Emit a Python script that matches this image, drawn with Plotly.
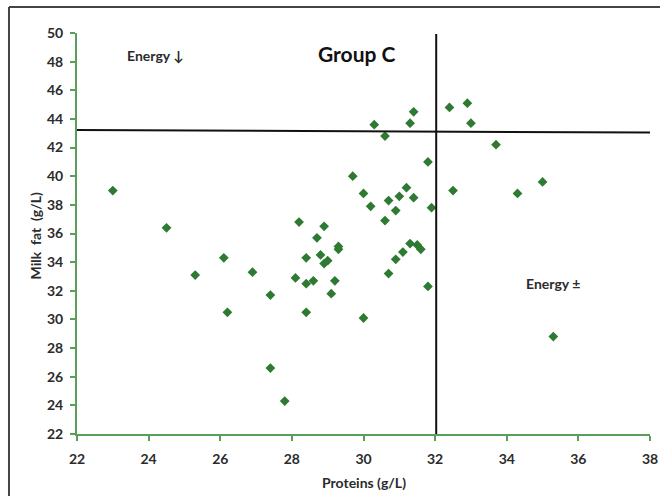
import plotly.graph_objects as go

# Data
proteins = [23.0, 24.5, 25.3, 26.1, 26.2, 26.9, 27.4, 27.4, 27.8, 28.2,
            28.1, 28.4, 28.4, 28.4, 28.6, 28.7, 28.9, 28.8, 28.9, 29.0,
            29.1, 29.2, 29.3, 29.3, 29.7, 30.0, 30.2, 30.6, 30.7, 30.9,
            31.0, 31.2, 31.4, 31.8, 31.9, 31.8, 31.3, 31.5, 31.6, 31.1,
            30.9, 30.7, 30.0, 30.3, 30.6, 31.3, 31.4, 32.4, 32.9, 33.0,
            33.7, 32.5, 34.3, 35.0, 35.3]
milk_fat = [39.0, 36.4, 33.1, 34.3, 30.5, 33.3, 31.7, 26.6, 24.3, 36.8,
            32.9, 34.3, 32.5, 30.5, 32.7, 35.7, 36.5, 34.5, 33.9, 34.1,
            31.8, 32.7, 35.1, 34.9, 40.0, 38.8, 37.9, 36.9, 38.3, 37.6,
            38.6, 39.2, 38.5, 41.0, 37.8, 32.3, 35.3, 35.2, 34.9, 34.7,
            34.2, 33.2, 30.1, 43.6, 42.8, 43.7, 44.5, 44.8, 45.1, 43.7,
            42.2, 39.0, 38.8, 39.6, 28.8]

x_ticks = [22, 24, 26, 28, 30, 32, 34, 36, 38]
y_ticks = [22, 24, 26, 28, 30, 32, 34, 36, 38, 40, 42, 44, 46, 48, 50]

# Threshold reference lines
fat_threshold_left = 43.23
fat_threshold_right = 43.05
protein_threshold = 32.03

GREEN_AXIS = "#5a9e5c"
MARKER = "#2e7a32"
FONT = "Lato, 'Open Sans', sans-serif"
TXT = "#2b2b2b"

fig = go.Figure()
fig.add_trace(go.Scatter(
    x=proteins, y=milk_fat, mode="markers",
    marker=dict(symbol="diamond", size=7.5, color=MARKER, line=dict(width=0)),
    showlegend=False, cliponaxis=False))

fig.add_shape(type="line", xref="x", yref="y",
              x0=x_ticks[0], x1=x_ticks[-1],
              y0=fat_threshold_left, y1=fat_threshold_right,
              line=dict(color="#111111", width=2))
fig.add_shape(type="line", xref="x", yref="y",
              x0=protein_threshold, x1=protein_threshold,
              y0=y_ticks[0], y1=y_ticks[-1] - 0.07,
              line=dict(color="#111111", width=2))

# Outer frame (left and top edges visible; others run off the picture)
fig.add_shape(type="line", xref="paper", yref="paper",
              x0=-0.1187, x1=-0.1187, y0=-0.3, y1=1.0648,
              line=dict(color="#444444", width=2), layer="above")
fig.add_shape(type="line", xref="paper", yref="paper",
              x0=-0.1187, x1=1.2, y0=1.0648, y1=1.0648,
              line=dict(color="#444444", width=2), layer="above")

fig.add_annotation(x=24.2, y=48.4, xref="x", yref="y", text="<b>Energy ↓</b>",
                   showarrow=False, xanchor="center", yanchor="middle",
                   font=dict(family=FONT, size=14, color=TXT))
fig.add_annotation(x=29.82, y=48.55, xref="x", yref="y", text="<b>Group C</b>",
                   showarrow=False, xanchor="center", yanchor="middle",
                   font=dict(family=FONT, size=21, color="#111111"))
fig.add_annotation(x=35.28, y=32.54, xref="x", yref="y", text="<b>Energy ±</b>",
                   showarrow=False, xanchor="center", yanchor="middle",
                   font=dict(family=FONT, size=14, color=TXT))

fig.add_annotation(x=-0.0716, y=0.495, xref="paper", yref="paper",
                   text="<b>Milk\u00a0 fat\u00a0 (g/L)</b>", textangle=-90,
                   showarrow=False, xanchor="center", yanchor="middle",
                   font=dict(family=FONT, size=14, color=TXT))
fig.add_annotation(x=0.501, y=-0.122, xref="paper", yref="paper",
                   text="<b>Proteins (g/L)</b>",
                   showarrow=False, xanchor="center", yanchor="middle",
                   font=dict(family=FONT, size=14, color=TXT))

fig.update_xaxes(range=[x_ticks[0], x_ticks[-1]], tickvals=x_ticks,
                 ticktext=[f"<b>{v}</b>" for v in x_ticks],
                 showgrid=False, zeroline=False, showline=True,
                 linecolor=GREEN_AXIS, linewidth=2, ticks="outside",
                 ticklen=5, tickwidth=2, tickcolor=GREEN_AXIS,
                 tickfont=dict(family=FONT, size=14, color=TXT),
                 ticklabelstandoff=6, automargin=False)
fig.update_yaxes(range=[y_ticks[0], y_ticks[-1]], tickvals=y_ticks,
                 ticktext=[f"<b>{v}</b>" for v in y_ticks],
                 showgrid=False, zeroline=False, showline=True,
                 linecolor=GREEN_AXIS, linewidth=2, ticks="outside",
                 ticklen=5, tickwidth=2, tickcolor=GREEN_AXIS,
                 tickfont=dict(family=FONT, size=14, color=TXT),
                 ticklabelstandoff=4, automargin=False)

fig.update_layout(width=660, height=496,
                  margin=dict(l=77, r=10, t=33, b=62, autoexpand=False),
                  paper_bgcolor="white", plot_bgcolor="white",
                  showlegend=False)

fig.write_html("out.html", config={"displayModeBar": False},
               post_script="document.body.style.margin='0';document.body.style.overflow='hidden';")
